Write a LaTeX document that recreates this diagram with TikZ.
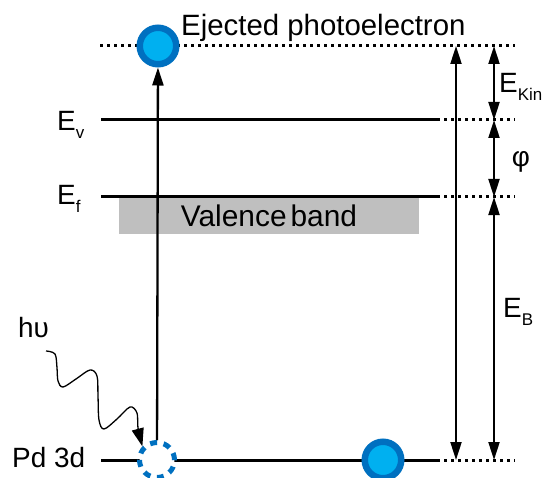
\documentclass[tikz,border=0pt]{standalone}
\usepackage{fontspec}
\setmainfont{Liberation Sans}
\usetikzlibrary{arrows.meta}
\definecolor{eblue}{RGB}{0,112,192}
\definecolor{ecyan}{RGB}{0,176,240}
\newcommand{\lowsub}[1]{\raisebox{-8bp}{\fontsize{17}{17}\selectfont #1}}

\begin{document}
\begin{tikzpicture}[x=1bp, y=-1bp,
  lbl/.style={font=\fontsize{28}{30}\selectfont, inner sep=0pt},
  level/.style={line width=3bp},
  vlevel/.style={line width=3bp, dash pattern=on 3bp off 4bp},
  electron/.style={circle, draw=eblue, fill=ecyan, line width=6.5bp,
                   minimum size=36.5bp, inner sep=0pt},
  hole/.style={circle, draw=eblue, fill=white, line width=5bp,
               minimum size=35bp, inner sep=0pt, dash pattern=on 7bp off 6.7bp},
  band/.style={rectangle, fill=black!25, minimum width=300bp, minimum height=37bp,
               inner sep=0pt, font=\fontsize{30}{32}\selectfont},
  arrow/.style={-{Triangle[length=18bp,width=11bp]}, line width=2.3bp},
  darrow/.style={{Triangle[length=18bp,width=11bp]}-{Triangle[length=18bp,width=11bp]},
                 line width=2bp},
  photon/.style={-{Triangle[length=18bp,width=12bp]}, line width=1.3bp}
]
\useasboundingbox (0,0) rectangle (545,478);

%% ---- valence band ----
\node[band] (vb) at (269,215.5) {Valence\hspace{4bp}band};

%% ---- level end points ----
\coordinate (top-l) at (100,46);  \coordinate (top-r) at (515,46);
\coordinate (ev-l)  at (101,120); \coordinate (ev-m)  at (437,120); \coordinate (ev-r) at (515,120);
\coordinate (ef-l)  at (101,197); \coordinate (ef-m)  at (437,197); \coordinate (ef-r) at (515,197);
\coordinate (pd-l)  at (101,460); \coordinate (pd-m)  at (437,460); \coordinate (pd-r) at (515,460);

%% ---- levels ----
\draw[vlevel] (top-l) -- (top-r);
\draw[level]  (ev-l) -- (ev-m);  \draw[vlevel] (ev-m) -- (ev-r);
\draw[level]  (ef-l) -- (ef-m);  \draw[vlevel] (ef-m) -- (ef-r);
\draw[level]  (pd-l) -- (pd-m);  \draw[vlevel] (pd-m) -- (pd-r);

%% ---- electrons ----
\node[electron] (e-top) at (158,46)  {};
\node[electron] (e-bot) at (383,460) {};
\node[hole]     (hole)  at (157,460) {};

%% ---- photoemission ----
\draw[arrow] (hole) -- (e-top);
\coordinate (ph-s) at (46,351);
\draw[photon] plot[smooth, tension=0.55] coordinates {(ph-s) (55,354) (57,368) (58,381)
  (63,387) (76,379) (90,370) (97,376) (98,396) (99,420) (104,429) (117,419) (130,407)
  (137,413) (138,428) (hole.137)};

%% ---- energy arrows ----
\coordinate (a-t) at (456,46);  \coordinate (a-b) at (456,460);
\coordinate (b-t) at (494,46);  \coordinate (b-v) at (494,120);
\coordinate (b-f) at (494,197); \coordinate (b-b) at (494,460);
\draw[darrow] (a-b) -- (a-t);
\draw[darrow] (b-t) -- (b-v);
\draw[darrow] (b-v) -- (b-f);
\draw[darrow] (b-f) -- (b-b);

%% ---- labels ----
\node[lbl, anchor=base west, font=\fontsize{29.5}{31}\selectfont] (ej) at (181,36) {Ejected photoelectron};
\node[lbl, anchor=base west] (lv)  at (57,131)  {E\lowsub{v}};
\node[lbl, anchor=base west] (lf)  at (57,205)  {E\lowsub{f}};
\node[lbl, anchor=base west] (hv)  at (18,337)  {hυ};
\node[lbl, anchor=base west] (pd)  at (12,467)  {Pd 3d};
\node[lbl, anchor=base west] (ek)  at (499,93)  {E\lowsub{Kin}};
\node[lbl] (phi) at (521,162) {φ};
\node[lbl, anchor=base west] (eb)  at (503,317) {E\lowsub{B}};
\end{tikzpicture}
\end{document}
